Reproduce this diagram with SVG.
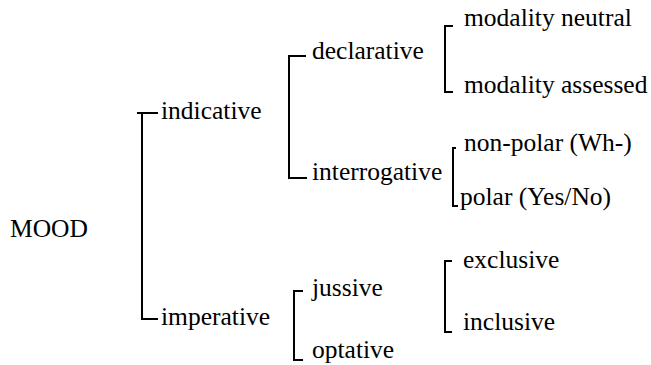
<svg xmlns="http://www.w3.org/2000/svg" width="651" height="365" viewBox="0 0 651 365">
<style>
text{font-family:"Liberation Serif","Times New Roman",serif;font-size:25.5px;fill:#000}
.b{fill:none;stroke:#000;stroke-width:2}
</style>
<rect width="651" height="365" fill="#fff"/>
<g id="connectors">
<path class="b" d="M137,113 H158 M142,113 V319 H158"/>
<path class="b" d="M306,56 H289 V178 H307"/>
<path class="b" d="M453,26 H445 V92 H453"/>
<path class="b" d="M456,148 H453 V206 H458"/>
<path class="b" d="M303,291 H294 V360 H303"/>
<path class="b" d="M452,261 H445 V332 H452"/>
</g>
<g id="mood"><text x="10" y="237">MOOD</text></g>
<g id="indicative"><text x="161" y="119">indicative</text></g>
<g id="imperative"><text x="161" y="325">imperative</text></g>
<g id="declarative"><text x="312" y="59">declarative</text></g>
<g id="interrogative"><text x="312" y="180">interrogative</text></g>
<g id="modality-neutral"><text x="464" y="26">modality neutral</text></g>
<g id="modality-assessed"><text x="464" y="93">modality assessed</text></g>
<g id="non-polar"><text x="464" y="151">non-polar (Wh-)</text></g>
<g id="polar"><text x="460" y="205">polar (Yes/No)</text></g>
<g id="jussive"><text x="312" y="296">jussive</text></g>
<g id="optative"><text x="312" y="358">optative</text></g>
<g id="exclusive"><text x="463" y="268">exclusive</text></g>
<g id="inclusive"><text x="463" y="330">inclusive</text></g>
</svg>
